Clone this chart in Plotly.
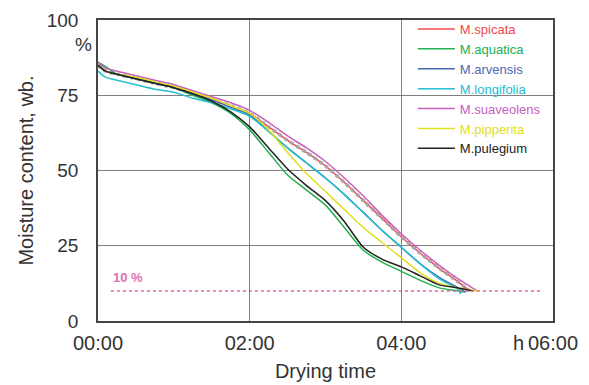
import plotly.graph_objects as go

# drying time in hours
t_common = [0, 0.1, 0.25, 0.5, 0.75, 1, 1.25, 1.5, 1.75, 2, 2.25, 2.5, 2.75, 3, 3.25, 3.5, 3.75, 4, 4.25, 4.5, 4.75]

spicata_end = 4.9
spicata = [85, 83, 82, 80.5, 79, 77.5, 75.5, 73.5, 71.5, 69, 64.5, 60, 56, 51.5, 46, 40, 34, 28, 22.5, 17.5, 13, 10]
aquatica_end = 4.82
aquatica = [86, 84.5, 82, 80.5, 79, 77.5, 75, 72.5, 69, 63.5, 56, 48.5, 43.5, 38.5, 31, 23.5, 19.5, 16.5, 13.5, 11, 10, 9.5]
arvensis_end = 4.85
arvensis = [85, 83, 82, 80.5, 79, 77.5, 75.5, 73.5, 71, 68.5, 63, 57.5, 52.5, 47.5, 42, 36, 30, 24.5, 19, 14.5, 11, 9.5]
longifolia_end = 4.78
longifolia = [83, 81, 80, 78.5, 77, 76, 74, 72.5, 70.5, 68, 63, 57.5, 52.5, 47.5, 42, 36, 30, 24.5, 19, 14, 10.5, 9]
suaveolens_end = 5.0
suaveolens = [86, 84, 83, 81.5, 80, 78.5, 76.5, 74.5, 72.5, 70, 66, 61.5, 57.5, 53, 47.5, 41.5, 35, 29, 23.5, 18.5, 14, 10]
pipperita_end = 5.0
pipperita = [85, 83, 82, 81, 79.5, 78, 76, 74, 71.5, 69, 63.5, 56, 49, 43, 37, 31, 26, 21, 16, 12.5, 11, 10]
pulegium_end = 4.95
pulegium = [85, 83, 82, 80.5, 79, 77.5, 75.5, 73, 69.5, 64.5, 57.5, 50.5, 45, 40, 33, 24.5, 20.5, 18, 15, 12, 11, 10]

limit_t = [0.17, 5.85]
limit_v = [10, 10]

series = [
    ("M.spicata", spicata, spicata_end, "#f04848"),
    ("M.aquatica", aquatica, aquatica_end, "#22b050"),
    ("M.arvensis", arvensis, arvensis_end, "#4a68b0"),
    ("M.longifolia", longifolia, longifolia_end, "#22c0d0"),
    ("M.suaveolens", suaveolens, suaveolens_end, "#c860c0"),
    ("M.pipperita", pipperita, pipperita_end, "#e0e020"),
    ("M.pulegium", pulegium, pulegium_end, "#222222"),
]

tick_vals_x = [0, 2, 4, 6]
tick_text_x = ["00:00", "02:00", "04:00", "06:00"]
tick_vals_y = [0, 25, 50, 75, 100]

fig = go.Figure()

for name, vals, end, color in series:
    tt = t_common + [end]
    label = f"<span style='color:{color}'>{name}</span>"
    fig.add_trace(go.Scatter(x=tt, y=vals, mode="lines", name=label,
                             line=dict(color=color, width=1.5, shape="spline", smoothing=0.7)))
    if name == "M.spicata":
        fig.add_trace(go.Scatter(x=tt, y=vals, mode="lines", showlegend=False,
                                 line=dict(color="#a8a8a8", width=3.5, dash="dot",
                                           shape="spline", smoothing=0.7)))

fig.add_trace(go.Scatter(x=limit_t, y=limit_v, mode="lines", showlegend=False,
                         line=dict(color="#e060a8", width=1.5, dash="dot")))

fig.add_annotation(x=0.17, y=10, xref="x", yref="y", text="<b>10 %</b>",
                   showarrow=False, xanchor="left", yanchor="bottom", yshift=4,
                   font=dict(size=13, color="#e070b0", family="Arial, Liberation Sans"))
fig.add_annotation(x=0, y=92.5, xref="paper", yref="y", text="%",
                   showarrow=False, xanchor="right", xshift=-4, yshift=-2,
                   font=dict(size=19, color="#333333", family="Arial, Liberation Sans"))
fig.add_annotation(x=6, y=0, xref="x", yref="paper", text="h",
                   showarrow=False, xanchor="right", yanchor="top", xshift=-27, yshift=-9,
                   font=dict(size=20, color="#333333", family="Arial, Liberation Sans"))

fig.update_layout(
    width=589, height=385,
    margin=dict(l=98, r=36, t=20, b=64, autoexpand=False),
    paper_bgcolor="white", plot_bgcolor="white",
    font=dict(family="Arial, Liberation Sans", color="#333333"),
    showlegend=True,
    legend=dict(x=0.692, y=1.02, xanchor="left", yanchor="top",
                bgcolor="rgba(0,0,0,0)", font=dict(size=13),
                tracegroupgap=0, itemwidth=37),
)
fig.update_xaxes(range=[0, 6], tickvals=tick_vals_x, ticktext=tick_text_x,
                 showgrid=True, gridcolor="#808080", gridwidth=1,
                 showline=True, linecolor="#444444", linewidth=1.5, mirror=True,
                 ticks="", ticklabelstandoff=3, tickfont=dict(size=20),
                 zeroline=False, automargin=False,
                 title=dict(text="Drying time", font=dict(size=20), standoff=11))
fig.update_yaxes(range=[0, 100], tickvals=tick_vals_y,
                 showgrid=True, gridcolor="#808080", gridwidth=1,
                 showline=True, linecolor="#444444", linewidth=1.5, mirror=True,
                 ticks="", ticklabelstandoff=14, tickfont=dict(size=19),
                 zeroline=False, automargin=False,
                 title=dict(text="Moisture content, wb.", font=dict(size=20), standoff=8))

fig.write_html("out.html")
